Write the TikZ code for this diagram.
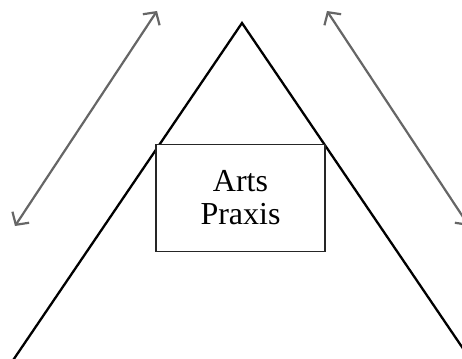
\documentclass[tikz,border=0pt]{standalone}
\usepackage{fontspec}
\setmainfont{Liberation Serif}
\usetikzlibrary{arrows.meta}
\begin{document}
\begin{tikzpicture}[x=1pt,y=-1pt,
  tri/.style={draw=black,line width=2.3pt,line join=miter},
  dbl/.style={draw=black!60,line width=2.2pt,{Straight Barb[length=9pt,width=20pt,line width=2.2pt]}-{Straight Barb[length=9pt,width=20pt,line width=2.2pt]}},
  labelbox/.style={draw=black!85,line width=1.4pt,fill=white,minimum width=169pt,minimum height=107pt,inner sep=0pt,align=center,font=\fontsize{32pt}{33pt}\selectfont}]
\useasboundingbox (0,0) rectangle (462,358);
\clip (0,0) rectangle (462,358);
\coordinate (apex) at (242,23);
\coordinate (bl) at (13.2,360);
\coordinate (br) at (470.8,360);
\draw[tri] (bl) -- (apex) -- (br);
\coordinate (la) at (15,226);
\coordinate (lb) at (157,11);
\coordinate (ra) at (327,11);
\coordinate (rb) at (469,226);
\draw[dbl] (la) -- (lb);
\draw[dbl] (ra) -- (rb);
\node[labelbox] (box) at (240.5,197.7) {Arts\\Praxis};
\end{tikzpicture}
\end{document}
